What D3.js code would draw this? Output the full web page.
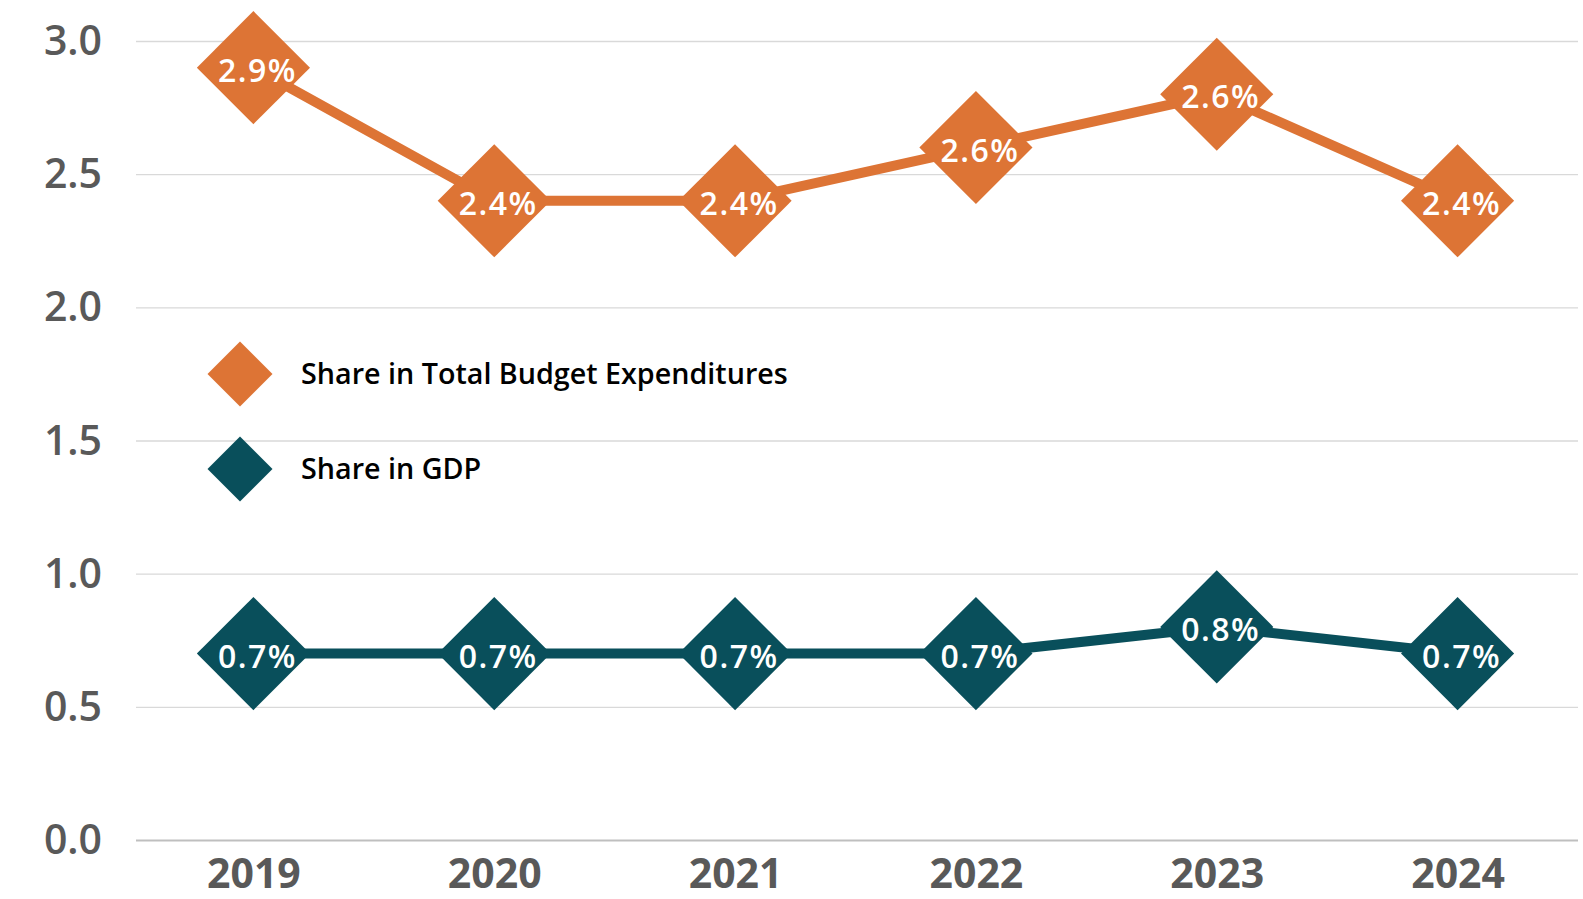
<!DOCTYPE html>
<html>
<head>
<meta charset="utf-8">
<script src="https://cdn.jsdelivr.net/npm/d3@7"></script>
<style>
  body { margin: 0; background: #fff; }
  svg { display: block; font-family: "Open Sans", Lato, sans-serif; }
</style>
</head>
<body>
<div id="chart"></div>
<script>
var years = ["2019", "2020", "2021", "2022", "2023", "2024"];
var budgetShare = [2.9, 2.4, 2.4, 2.6, 2.8, 2.4];
var gdpShare = [0.7, 0.7, 0.7, 0.7, 0.8, 0.7];
var budgetLabels = ["2.9%", "2.4%", "2.4%", "2.6%", "2.6%", "2.4%"];
var gdpLabels = ["0.7%", "0.7%", "0.7%", "0.7%", "0.8%", "0.7%"];
var yTicks = [0, 0.5, 1, 1.5, 2, 2.5, 3];
var seriesNames = ["Share in Total Budget Expenditures", "Share in GDP"];
var colors = ["#dd7435", "#094f5b"];

var W = 1583, H = 899;
var plotL = 136, plotR = 1578, plotT = 41, plotB = 840;

var x = d3.scalePoint()
  .domain(years)
  .range([133, 1578])
  .padding(0.5);
var y = d3.scaleLinear()
  .domain([0, 3])
  .range([plotB, plotT]);

var svg = d3.select("#chart").append("svg")
  .attr("width", W)
  .attr("height", H);

// grid + y labels
var yAxis = d3.axisLeft(y).tickValues(yTicks).tickSize(-(plotR - plotL)).tickFormat(d3.format(".1f"));
svg.append("g")
  .attr("transform", "translate(" + plotL + ",0)")
  .call(function (g) {
    g.call(yAxis);
    g.select(".domain").remove();
    g.selectAll(".tick line").attr("stroke", "#d9d9d9").attr("stroke-width", 1.3);
    g.selectAll(".tick line").filter(function (d) { return d === 0; }).attr("stroke", "#bfbfbf").attr("stroke-width", 2);
    g.selectAll(".tick text")
      .attr("x", -34).attr("dy", "0.33em")
      .attr("fill", "#595959")
      .style("font-size", "41px").style("font-weight", 600)
      .style("font-family", "'Open Sans', sans-serif");
  });

// x labels
var xAxis = d3.axisBottom(x).tickSize(0);
svg.append("g")
  .attr("transform", "translate(0," + plotB + ")")
  .call(function (g) {
    g.call(xAxis);
    g.select(".domain").remove();
    g.selectAll(".tick text")
      .attr("y", 19).attr("dy", "0.71em")
      .attr("fill", "#595959")
      .style("font-size", "41px").style("font-weight", 700)
      .style("font-family", "'Open Sans', sans-serif");
  });

var diamond = d3.symbol().type(d3.symbolSquare).size(6400);

function drawSeries(values, labels, color) {
  var pts = years.map(function (yr, i) { return [x(yr), y(values[i]), labels[i]]; });
  var line = d3.line().x(function (d) { return d[0]; }).y(function (d) { return d[1]; });
  var g = svg.append("g");
  g.append("path")
    .attr("d", line(pts))
    .attr("fill", "none")
    .attr("stroke", color)
    .attr("stroke-width", 10);
  g.selectAll(".mk").data(pts).enter().append("path")
    .attr("d", diamond)
    .attr("transform", function (d) { return "translate(" + d[0] + "," + d[1] + ") rotate(45)"; })
    .attr("fill", color);
  g.selectAll(".lb").data(pts).enter().append("text")
    .attr("x", function (d) { return d[0] + 4; })
    .attr("y", function (d) { return d[1] + 3; })
    .attr("dy", "0.35em")
    .attr("text-anchor", "middle")
    .attr("fill", "#fff")
    .style("font-size", "32px").style("font-weight", 600)
    .style("letter-spacing", "1.5px")
    .text(function (d) { return d[2]; });
}

drawSeries(budgetShare, budgetLabels, colors[0]);
drawSeries(gdpShare, gdpLabels, colors[1]);

// legend
var legendSym = d3.symbol().type(d3.symbolSquare).size(2112);
var legend = svg.append("g").selectAll("g")
  .data(seriesNames)
  .enter().append("g")
  .attr("transform", function (d, i) { return "translate(240," + (374 + i * 95) + ")"; });
legend.append("path")
  .attr("d", legendSym)
  .attr("transform", "rotate(45)")
  .attr("fill", function (d, i) { return colors[i]; });
legend.append("text")
  .attr("x", 61)
  .attr("dy", "0.35em")
  .attr("fill", "#000")
  .style("font-size", "28.7px").style("font-weight", 600)
  .text(function (d) { return d; });
</script>
</body>
</html>
